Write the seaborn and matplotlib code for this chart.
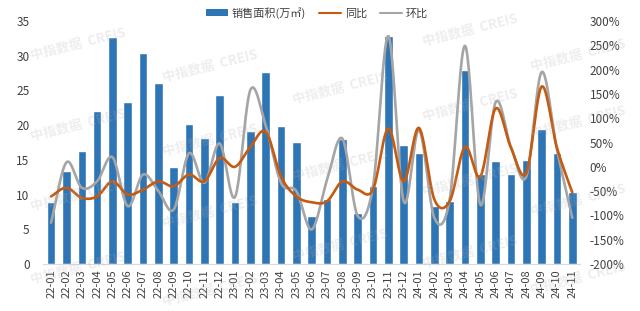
import numpy as np
import pandas as pd
import matplotlib
matplotlib.use("Agg")
import matplotlib.pyplot as plt
import seaborn as sns
from matplotlib.lines import Line2D
from matplotlib.patches import Patch

sns.set_style("white")
plt.rcParams['font.family'] = ['Noto Sans CJK SC', 'DejaVu Sans']

months = ["22-01", "22-02", "22-03", "22-04", "22-05", "22-06", "22-07", "22-08", "22-09", "22-10",
          "22-11", "22-12", "23-01", "23-02", "23-03", "23-04", "23-05", "23-06", "23-07", "23-08",
          "23-09", "23-10", "23-11", "23-12", "24-01", "24-02", "24-03", "24-04", "24-05", "24-06",
          "24-07", "24-08", "24-09", "24-10", "24-11"]
area = [8.9, 13.4, 16.3, 22.0, 32.7, 23.4, 30.4, 26.0, 13.9, 20.1,
        18.1, 24.3, 8.9, 19.1, 27.6, 19.9, 17.6, 6.9, 9.4, 18.0,
        7.3, 11.3, 32.9, 17.1, 16.0, 8.3, 9.1, 28.0, 12.9, 14.9,
        12.9, 15.0, 19.4, 16.0, 10.3]
yoy = [-61, -43, -64, -61, -30, -57, -47, -30, -40, -16,
       -30, 18, 0, 41, 72, -20, -61, -73, -71, -30,
       -47, -47, 79, -30, 80, -67, -71, 41, -20, 120,
       39, -13, 165, 39, -53]
mom = [-115, 9, -43, -30, 20, -81, -16, -50, -88, 28,
       -33, 48, -62, 158, 85, -33, -50, -129, -27, 58,
       -101, -40, 269, -71, 76, -105, -67, 249, -78, 133,
       41, -20, 195, 35, -105]

C_BAR = "#2E75B6"
C_YOY = "#C55A11"
C_MOM = "#A5A5A5"


def catmull_rom(x, y, n=24):
    x = np.asarray(x, float)
    y = np.asarray(y, float)
    px = np.concatenate([[2 * x[0] - x[1]], x, [2 * x[-1] - x[-2]]])
    py = np.concatenate([[2 * y[0] - y[1]], y, [2 * y[-1] - y[-2]]])
    xs, ys = [], []
    t = np.linspace(0, 1, n, endpoint=False)
    for i in range(1, len(px) - 2):
        p0, p1, p2, p3 = py[i - 1], py[i], py[i + 1], py[i + 2]
        q0, q1, q2, q3 = px[i - 1], px[i], px[i + 1], px[i + 2]
        ys.append(0.5 * (2 * p1 + (-p0 + p2) * t + (2 * p0 - 5 * p1 + 4 * p2 - p3) * t ** 2
                         + (-p0 + 3 * p1 - 3 * p2 + p3) * t ** 3))
        xs.append(0.5 * (2 * q1 + (-q0 + q2) * t + (2 * q0 - 5 * q1 + 4 * q2 - q3) * t ** 2
                         + (-q0 + 3 * q1 - 3 * q2 + q3) * t ** 3))
    xs.append([x[-1]])
    ys.append([y[-1]])
    return np.concatenate(xs), np.concatenate(ys)


df = pd.DataFrame({"month": months, "area": area})

fig = plt.figure(figsize=(6.4, 3.11), dpi=100)
ax = fig.add_axes([0.0678, 0.1511, 0.8384, 0.7814])

sns.barplot(data=df, x="month", y="area", color=C_BAR, width=0.55, ax=ax,
            saturation=1, zorder=2)
ax.set_xlim(-0.5, len(months) - 0.5)
ax.set_ylim(0, 35)
ax.set_yticks(range(0, 36, 5))
ax.set_xlabel("")
ax.set_ylabel("")
ax.tick_params(axis="x", rotation=90, labelsize=8, length=0, pad=4, colors="#404040")
ax.tick_params(axis="y", labelsize=8.5, length=0, pad=10, colors="#404040")
for s in ["top", "left", "right"]:
    ax.spines[s].set_visible(False)
ax.spines["bottom"].set_color("#D9D9D9")

ax2 = ax.twinx()
xi = np.arange(len(months))
sx, sy = catmull_rom(xi, mom)
ax2.plot(sx, sy, color=C_MOM, lw=1.9, solid_capstyle="round")
sx, sy = catmull_rom(xi, yoy)
ax2.plot(sx, sy, color=C_YOY, lw=1.9, solid_capstyle="round")
ax2.set_ylim(-200, 300)
ax2.set_yticks(range(-200, 301, 50))
ax2.set_yticklabels([f"{v}%" for v in range(-200, 301, 50)])
ax2.tick_params(axis="y", labelsize=8.5, length=0, pad=7, colors="#404040")
for s in ["top", "left", "right", "bottom"]:
    ax2.spines[s].set_visible(False)

# faint watermarks
wm_pos = [(78, 44), (78, 125), (78, 195), (78, 268),
          (210, 66), (210, 140), (210, 212), (210, 290),
          (340, 88), (340, 165), (340, 245),
          (470, 30), (470, 105), (470, 180), (470, 252),
          (578, 55), (578, 122), (578, 200), (578, 278)]
for (px, py) in wm_pos:
    fig.text(px / 640, 1 - py / 311, "中指数据  CREIS", fontsize=9.5, fontweight="bold",
             color="#B0B0B0", alpha=0.22, rotation=14, ha="center", va="center", zorder=10)

handles = [Patch(facecolor=C_BAR, edgecolor="none"),
           Line2D([0], [0], color=C_YOY, lw=1.5),
           Line2D([0], [0], color=C_MOM, lw=1.5)]
fig.legend(handles, ["销售面积(万㎡)", "同比", "环比"], loc="center",
           bbox_to_anchor=(317 / 640, 1 - 13 / 311), ncol=3, frameon=False,
           fontsize=8, handlelength=2.0, handleheight=0.6, handletextpad=0.3,
           columnspacing=1.2, labelcolor="#404040")

fig.savefig("out.png", dpi=100)
